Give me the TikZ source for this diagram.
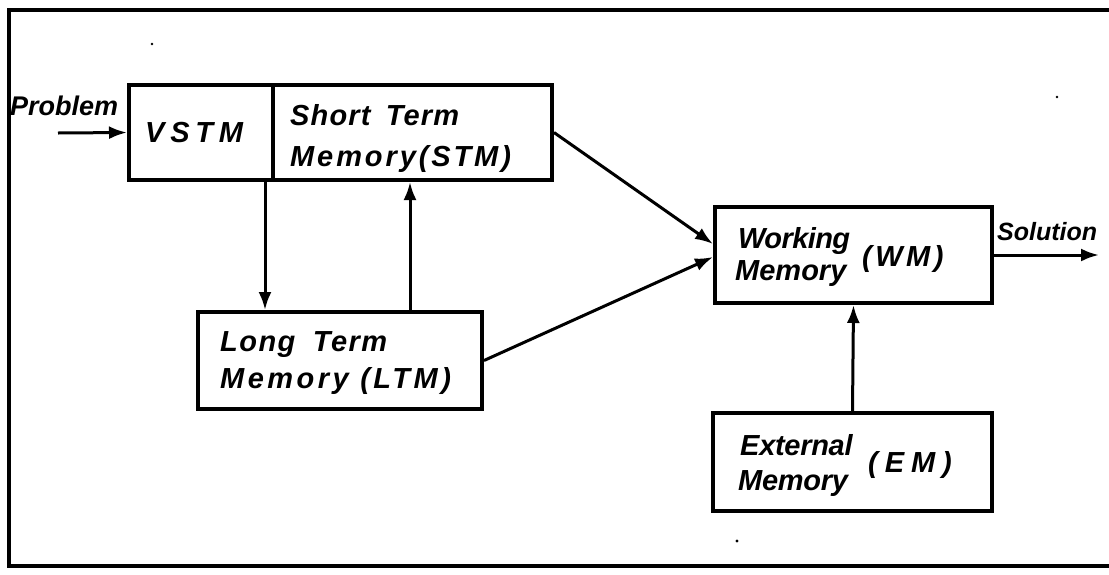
\documentclass[tikz,border=0pt]{standalone}
\usepackage{fontspec}
\setmainfont{Liberation Sans}
\usetikzlibrary{arrows.meta}
% hand-lettered label font: size and letter spacing
\newcommand\hand[2]{\fontsize{#1}{#1}\selectfont\bfseries\itshape\addfontfeatures{LetterSpace=#2}}
\begin{document}
\begin{tikzpicture}[x=1pt,y=-1pt,
  blk/.style={draw, line width=4pt, rectangle, inner sep=0pt},
  conn/.style={line width=3pt, -{Latex[length=18pt,width=13pt]}},
  lbl/.style={anchor=base west, inner sep=0pt},
  frameline/.style={line width=3.5pt},
  speck/.style={fill=black}]
\useasboundingbox (0,0) rectangle (1109,574);

% open frame (no right side)
\draw[frameline] (1109,10) -- (9,10) -- (9,566) -- (1109,566);

% memory blocks
\node[blk, minimum width=144pt, minimum height=95pt] (vstm) at (201,132.5) {};
\node[blk, minimum width=279pt, minimum height=95pt] (stm) at (412.5,132.5) {};
\node[blk, minimum width=284pt, minimum height=97pt] (ltm) at (340,360.5) {};
\node[blk, minimum width=277pt, minimum height=96pt] (wm) at (853.5,255) {};
\node[blk, minimum width=279pt, minimum height=98pt] (em) at (852.5,462) {};

% block texts
\node[lbl, font={\hand{29}{20}}] (tvstm) at (145,142) {VSTM};
\node[lbl, font={\hand{29}{4}}] (tstm1) at (290,125) {Short\hspace{6pt} Term};
\node[lbl, font={\hand{29}{10}}] (tstm2) at (290,166) {Memory(STM)};
\node[lbl, font={\hand{29}{5}}] (tltm1) at (220,351) {Long\hspace{8pt} Term};
\node[lbl, font={\hand{29}{12}}] (tltm2) at (220,388) {Memory (LTM)};
\node[lbl, font={\hand{29}{-2}}] (twm1) at (738,248) {Working};
\node[lbl, font={\hand{29}{0}}] (twm2) at (735,280) {Memory};
\node[lbl, font={\hand{29}{12}}] (twm3) at (862,266) {(WM)};
\node[lbl, font={\hand{29}{-1}}] (tem1) at (740,455) {External};
\node[lbl, font={\hand{29}{-1}}] (tem2) at (738,490) {Memory};
\node[lbl, font={\hand{29}{24}}] (tem3) at (868,472) {(EM)};

% input and output labels
\node[lbl, font={\hand{27}{0}}] (tprob) at (10,115) {Problem};
\node[lbl, font={\hand{25}{0}}] (tsol) at (997,240) {Solution};
\coordinate (pin) at (58,133);
\coordinate (pout) at (1099,255);

% connectors
\draw[conn] (pin) -- (vstm.west);
\draw[conn] (265,0 |- vstm.south) -- (265,0 |- ltm.north);
\draw[conn] (410,0 |- ltm.north) -- (410,0 |- stm.south);
\draw[conn] (stm.east) -- ([yshift=11pt]wm.west);
\draw[conn] (ltm.east) -- ([yshift=-2pt]wm.west);
\draw[conn] (em.north) -- (wm.south);
\draw[conn] (wm.east) -- (pout);

% small specks
\fill[speck] (152,44) circle (1.3);
\fill[speck] (1057,97) circle (1.3);
\fill[speck] (737,541) circle (1.6);
\end{tikzpicture}
\end{document}
